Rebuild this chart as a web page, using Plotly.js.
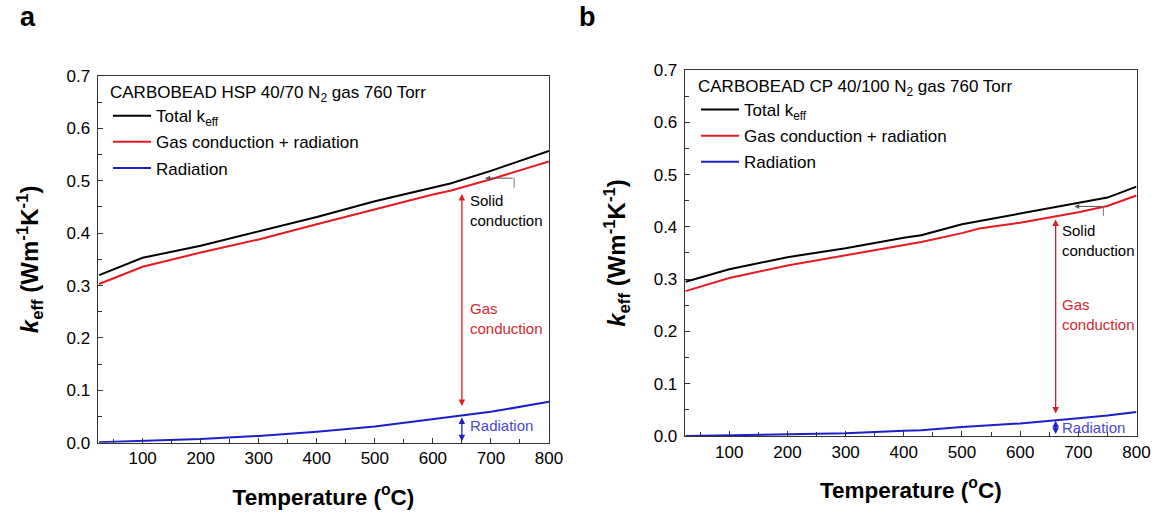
<!DOCTYPE html>
<html>
<head>
<meta charset="utf-8">
<script src="https://cdn.plot.ly/plotly-3.0.1.min.js"></script>
<style>html,body{margin:0;padding:0;background:#fff;}#chart{width:1155px;height:514px;}</style>
</head>
<body>
<div id="chart"></div>
<script>
// ---- Panel a : CARBOBEAD HSP 40/70 ----
var tempA  = [25, 100, 200, 300, 400, 500, 600, 630, 700, 800];
var totalA = [0.320, 0.353, 0.376, 0.403, 0.431, 0.461, 0.487, 0.495, 0.519, 0.557];
var gasA   = [0.303, 0.336, 0.363, 0.388, 0.417, 0.446, 0.474, 0.481, 0.503, 0.537];
var radA   = [0.001, 0.003, 0.007, 0.013, 0.021, 0.031, 0.045, 0.049, 0.059, 0.078];

// ---- Panel b : CARBOBEAD CP 40/100 ----
var tempB  = [25, 100, 200, 300, 400, 430, 500, 530, 600, 700, 750, 800];
var totalB = [0.295, 0.319, 0.342, 0.359, 0.379, 0.384, 0.405, 0.411, 0.425, 0.445, 0.456, 0.477];
var gasB   = [0.277, 0.302, 0.326, 0.346, 0.365, 0.371, 0.388, 0.397, 0.408, 0.428, 0.440, 0.460];
var radB   = [0.000, 0.001, 0.003, 0.005, 0.010, 0.011, 0.017, 0.019, 0.024, 0.034, 0.039, 0.046];

var seriesNames = ['Total k<sub>eff</sub>', 'Gas conduction + radiation', 'Radiation'];
var panelTitles = ['CARBOBEAD HSP 40/70 N<sub>2</sub> gas 760 Torr', 'CARBOBEAD CP 40/100 N<sub>2</sub> gas 760 Torr'];
var panelLetters = ['a', 'b'];

var FONT = 'Arial, "Liberation Sans", sans-serif';
var BLACK = '#000000', RED = '#e31a1f', BLUE = '#1c1fc8';

function tr(x, y, name, color, xa, ya, leg, grp) {
  return {x: x, y: y, name: name, type: 'scatter', mode: 'lines', legendgroup: grp,
          line: {color: color, width: 2}, xaxis: xa, yaxis: ya, legend: leg};
}

var data = [
  tr(tempA, totalA, seriesNames[0], BLACK, 'x', 'y', 'legend', 'a1'),
  tr(tempA, gasA,   seriesNames[1], RED,   'x', 'y', 'legend', 'a2'),
  tr(tempA, radA,   seriesNames[2], BLUE,  'x', 'y', 'legend', 'a3'),
  tr(tempB, totalB, seriesNames[0], BLACK, 'x2', 'y2', 'legend2', 'b1'),
  tr(tempB, gasB,   seriesNames[1], RED,   'x2', 'y2', 'legend2', 'b2'),
  tr(tempB, radB,   seriesNames[2], BLUE,  'x2', 'y2', 'legend2', 'b3')
];

function xax(domain, anchor, lo) {
  return {domain: domain, anchor: anchor, range: [lo, 800], tick0: 0, dtick: 100,
    ticks: 'inside', ticklen: 5, tickwidth: 1, tickcolor: '#333',
    minor: {dtick: 50, ticks: 'inside', ticklen: 4, tickcolor: '#333'},
    showline: true, mirror: true, linecolor: '#333', linewidth: 1.3,
    showgrid: false, zeroline: false,
    tickfont: {family: FONT, size: 17, color: '#000'},
    title: {text: '<b>Temperature (<sup>o</sup>C)</b>', font: {family: FONT, size: 22.5, color: '#000'}, standoff: 21}};
}
function yax(domain, anchor) {
  return {domain: domain, anchor: anchor, range: [0, 0.7], tick0: 0, dtick: 0.1, tickformat: '.1f',
    ticks: 'inside', ticklen: 5, tickwidth: 1, tickcolor: '#333', ticklabelstandoff: 3,
    minor: {dtick: 0.05, ticks: 'inside', ticklen: 4, tickcolor: '#333'},
    showline: true, mirror: true, linecolor: '#333', linewidth: 1.3,
    showgrid: false, zeroline: false,
    tickfont: {family: FONT, size: 17, color: '#000'},
    title: {text: '<b><i>k</i><sub>eff</sub> (Wm<sup>-1</sup>K<sup>-1</sup>)</b>', font: {family: FONT, size: 24, color: '#000'}, standoff: 21}};
}

function legendCfg(x, y, title) {
  return {x: x, y: y, xanchor: 'left', yanchor: 'top', xref: 'paper', yref: 'paper',
    bgcolor: 'rgba(0,0,0,0)', borderwidth: 0, tracegroupgap: 1, itemwidth: 38,
    font: {family: FONT, size: 17, color: '#000'},
    title: {text: title, side: 'top', font: {family: FONT, size: 17, color: '#000'}}};
}

var annFont = function (c) { return {family: FONT, size: 15, color: c}; };
var GAS_TXT = '#d42a30', RAD_TXT = '#4a4ad0';

function panelAnnotations(xr, yr, p) {
  var a = [];
  a.push({xref: xr, yref: yr, axref: xr, ayref: yr, x: p.arrX, y: p.gasTop, ax: p.arrX, ay: p.gasBot,
    text: '', showarrow: true, arrowside: 'end+start', arrowhead: 2, arrowsize: 1, arrowwidth: 1.3,
    arrowcolor: RED, standoff: 0, startstandoff: 0});
  a.push({xref: xr, yref: yr, axref: xr, ayref: yr, x: p.arrX, y: p.radTop, ax: p.arrX, ay: p.radBot,
    text: '', showarrow: true, arrowside: 'end+start', arrowhead: 2, arrowsize: 1, arrowwidth: 1.3,
    arrowcolor: BLUE, standoff: 0, startstandoff: 0});
  a.push({xref: xr, yref: yr, axref: xr, ayref: yr, x: p.solTipX, y: p.solY, ax: p.solEndX, ay: p.solY,
    text: '', showarrow: true, arrowhead: 2, arrowsize: 1, arrowwidth: 1, arrowcolor: '#555',
    standoff: 0, startstandoff: 0});
  a.push({xref: xr, yref: yr, x: p.txtX, y: p.solTxtY, xanchor: 'left', yanchor: 'middle', align: 'left',
    text: 'Solid<br>conduction', showarrow: false, font: annFont('#000')});
  a.push({xref: xr, yref: yr, x: p.txtX, y: p.gasTxtY, xanchor: 'left', yanchor: 'middle', align: 'left',
    text: 'Gas<br>conduction', showarrow: false, font: annFont(GAS_TXT)});
  a.push({xref: xr, yref: yr, x: p.txtX, y: p.radTxtY, xanchor: 'left', yanchor: 'middle', align: 'left',
    text: 'Radiation', showarrow: false, font: annFont(RAD_TXT)});
  return a;
}

var pA = {arrX: 650, gasTop: 0.475, gasBot: 0.067, radTop: 0.048, radBot: 0.0,
  solTipX: 690, solEndX: 740, solY: 0.505, solLow: 0.487,
  txtX: 660, solTxtY: 0.443, gasTxtY: 0.238, radTxtY: 0.032};
var pB = {arrX: 661, gasTop: 0.414, gasBot: 0.040, radTop: 0.029, radBot: 0.001,
  solTipX: 693, solEndX: 743, solY: 0.439, solLow: 0.421,
  txtX: 668, solTxtY: 0.374, gasTxtY: 0.232, radTxtY: 0.016};

var annotations = [].concat(panelAnnotations('x', 'y', pA), panelAnnotations('x2', 'y2', pB));
annotations.push({xref: 'paper', yref: 'paper', x: 28 / 1155, y: 1 - 17 / 514, xanchor: 'center', yanchor: 'middle',
  text: '<b>' + panelLetters[0] + '</b>', showarrow: false, font: {family: FONT, size: 27, color: '#000'}});
annotations.push({xref: 'paper', yref: 'paper', x: 588 / 1155, y: 1 - 17 / 514, xanchor: 'center', yanchor: 'middle',
  text: '<b>' + panelLetters[1] + '</b>', showarrow: false, font: {family: FONT, size: 27, color: '#000'}});

var shapes = [
  {type: 'line', xref: 'x', yref: 'y', x0: pA.solEndX, x1: pA.solEndX, y0: pA.solY, y1: pA.solLow, line: {color: '#777', width: 1}},
  {type: 'line', xref: 'x2', yref: 'y2', x0: pB.solEndX, x1: pB.solEndX, y0: pB.solY, y1: pB.solLow, line: {color: '#777', width: 1}}
];

var layout = {
  width: 1155, height: 514,
  margin: {l: 0, r: 0, t: 0, b: 0},
  paper_bgcolor: '#fff', plot_bgcolor: '#fff',
  font: {family: FONT, color: '#000'},
  showlegend: true,
  xaxis: xax([0.0848, 0.4753], 'y', 23),
  yaxis: yax([0.1387, 0.8521], 'x'),
  xaxis2: xax([0.5931, 0.9840], 'y2', 24),
  yaxis2: yax([0.1518, 0.8638], 'x2'),
  legend: legendCfg(0.0935, 0.852, panelTitles[0]),
  legend2: legendCfg(0.6026, 0.864, panelTitles[1]),
  annotations: annotations,
  shapes: shapes
};

Plotly.newPlot('chart', data, layout, {staticPlot: true, displayModeBar: false});
</script>
</body>
</html>
